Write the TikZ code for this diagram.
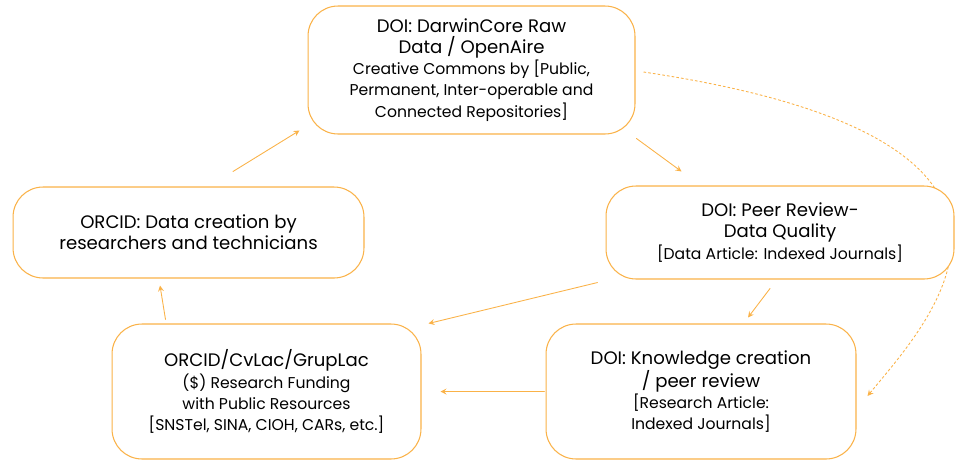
\documentclass[tikz,border=0pt]{standalone}
\usepackage{fontspec}
\setmainfont{Poppins}
\usetikzlibrary{backgrounds,calc}
\definecolor{naranja}{RGB}{250,178,72}
\newcommand{\grande}{\fontsize{10.3}{12.6}\selectfont}
\newcommand{\chico}{\fontsize{8.9}{11.4}\selectfont}
\begin{document}
\begin{tikzpicture}[>=stealth,line join=round, line cap=round, x=0.02cm, y=-0.02cm,
		caja/.style={draw=naranja, fill=white, rounded corners=0.6cm, align=center, inner sep=0pt, line width=0.6pt},
		flecha/.style={->, draw=naranja, line width=0.5pt}]
	\useasboundingbox (0,0) rectangle (955,460);
	\node[caja, minimum width=6.54cm, minimum height=2.56cm] (doi) at (471.5,70)
		{\grande DOI: DarwinCore Raw\\ \grande Data / OpenAire\\ \chico Creative Commons by [Public,\\ \chico Permanent, Inter-operable and\\ \chico Connected Repositories]};
	\node[caja, minimum width=7.02cm, minimum height=1.82cm] (orcid) at (188.5,232.5)
		{\grande ORCID: Data creation by\\ \grande researchers and technicians};
	\node[caja, minimum width=6.96cm, minimum height=1.86cm] (peer) at (780,232.5)
		{\grande DOI: Peer Review-\\ \grande Data Quality\\ \chico [Data Article: Indexed Journals]};
	\node[caja, minimum width=6.18cm, minimum height=2.7cm] (cvlac) at (266.5,391.5)
		{\grande ORCID/CvLac/GrupLac\\ \chico (\$) Research Funding\\ \chico with Public Resources\\ \chico [SNSTel, SINA, CIOH, CARs, etc.]};
	\node[caja, minimum width=6.2cm, minimum height=2.7cm] (know) at (701,391.5)
		{\grande DOI: Knowledge creation\\ \grande / peer review\\ \chico [Research Article:\\ \chico Indexed Journals]};
	% flechas del ciclo
	\draw[flecha] ($(orcid.north)+(44.5,-15)$) -- ($(doi.south west)+(-8,-4)$);
	\draw[flecha] ($(doi.south east)+(1,4)$) -- ($(peer.north west)+(76,-14)$);
	\draw[flecha] ($(peer.south)+(-10,9)$) -- ($(know.north)+(47,-6)$);
	\draw[flecha] ($(peer.south west)+(-8,3)$) -- ($(cvlac.north east)+(7,0)$);
	\draw[flecha, shorten >=0.38cm, shorten <=0.02cm] (know.west) -- (cvlac.east);
	\draw[flecha] ($(cvlac.north west)+(54,-4)$) -- ($(orcid.south)+(-28.5,7)$);
	\begin{pgfonlayer}{background}
		\draw[flecha, dash pattern=on 1.5pt off 1.2pt] ($(doi.east)+(8,2)$) .. controls ($(doi.east)+(465,70)$) and ($(know.east)+(74,-72)$) .. ($(know.east)+(11,4.5)$);
	\end{pgfonlayer}
\end{tikzpicture}
\end{document}
